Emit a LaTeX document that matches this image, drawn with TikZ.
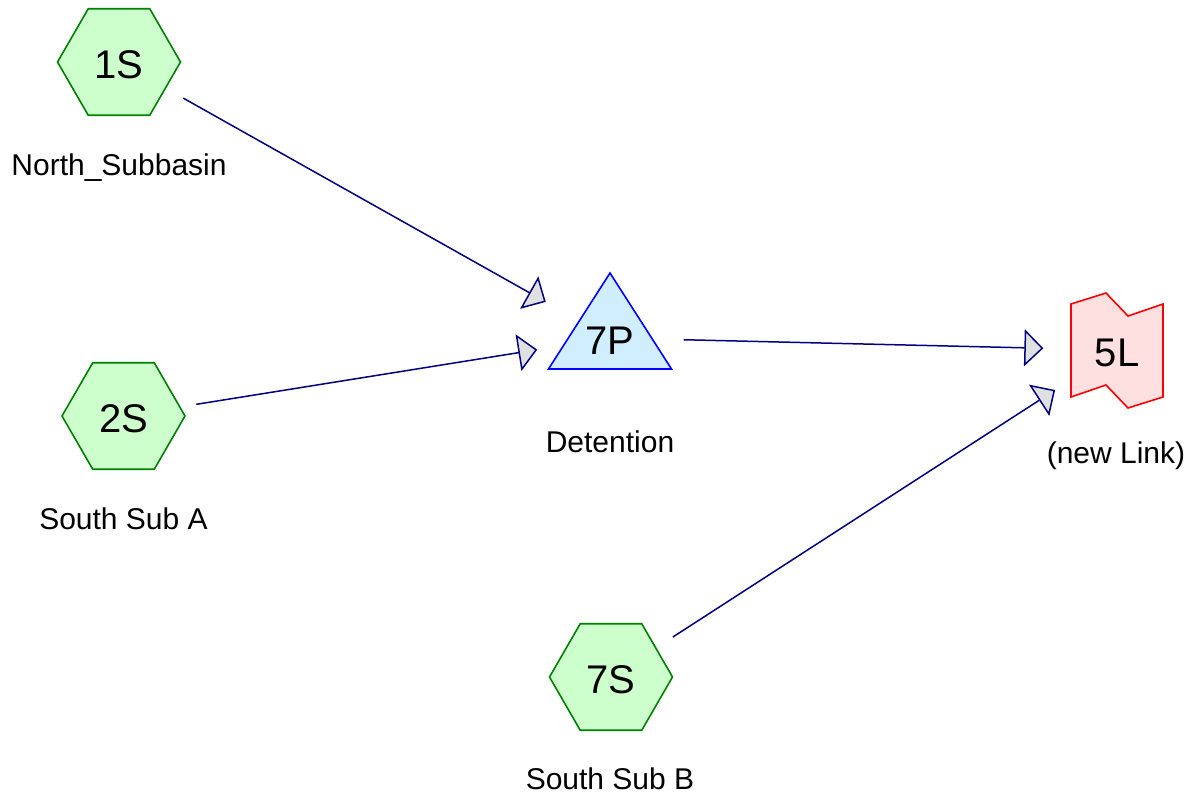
\documentclass[tikz,border=0pt]{standalone}
\usepackage{fontspec}
\setmainfont{Liberation Sans}
\usepackage{xcolor}
\usetikzlibrary{arrows.meta,backgrounds}

\definecolor{subfill}{RGB}{204,255,204}
\definecolor{subline}{RGB}{0,128,0}
\definecolor{pondfill}{RGB}{208,238,255}
\definecolor{pondline}{RGB}{0,0,255}
\definecolor{linkfill}{RGB}{255,224,224}
\definecolor{linkline}{RGB}{255,0,0}
\definecolor{flow}{RGB}{0,0,128}

\begin{document}
\begin{tikzpicture}[x=1pt,y=-1pt,
    hydro/.style={circle,minimum size=147pt,inner sep=0pt,text height=33pt,text depth=0pt,font=\fontsize{40}{48}\selectfont},
    hexshape/.style={subline,fill=subfill,line width=1.6pt},
    pondshape/.style={pondline,fill=pondfill,line width=1.6pt},
    linkshape/.style={linkline,fill=linkfill,line width=1.6pt},
    lbl/.style={anchor=base,inner sep=0pt,font=\fontsize{30}{36}\selectfont},
    flowline/.style={flow,line width=1.5pt,-{Triangle[length=19pt,width=37pt,fill=black!12,line width=1.5pt]}}]
    \useasboundingbox (0,0) rectangle (1195,797);

    \node[hydro] (n1S) at (119,62) {1S};
    \node[hydro] (n2S) at (123.5,416) {2S};
    \node[hydro] (n7S) at (611,677) {7S};
    \node[hydro] (n7P) at (610,338) {7P};
    \node[hydro] (n5L) at (1117,350) {5L};

    \begin{scope}[on background layer]
        \foreach \n in {n1S,n2S,n7S}
            \draw[hexshape,shift={(\n.center)}] (0:61.5) \foreach \a in {60,120,...,300} {-- (\a:61.5)} -- cycle;
        \draw[pondshape,shift={(n7P.center)}] (0,-65) -- (61.5,31) -- (-61.5,31) -- cycle;
        \draw[linkshape,shift={(n5L.center)}] (-46,-46) -- (-11,-57) -- (11,-34) -- (46,-46)
            -- (46,47) -- (11,58) -- (-11,35) -- (-46,47) -- cycle;
    \end{scope}

    \node[lbl] (l1S) at (119,176) {North\_Subbasin};
    \node[lbl] (l2S) at (123.5,529) {South Sub A};
    \node[lbl] (l7S) at (610,789) {South Sub B};
    \node[lbl] (l7P) at (610,452) {Detention};
    \node[lbl] (l5L) at (1116,463) {(new Link)};

    \draw[flowline] (n1S) -- (n7P);
    \draw[flowline] (n2S) -- (n7P);
    \draw[flowline] (n7P) -- (n5L);
    \draw[flowline] (n7S) -- (n5L);
\end{tikzpicture}
\end{document}
